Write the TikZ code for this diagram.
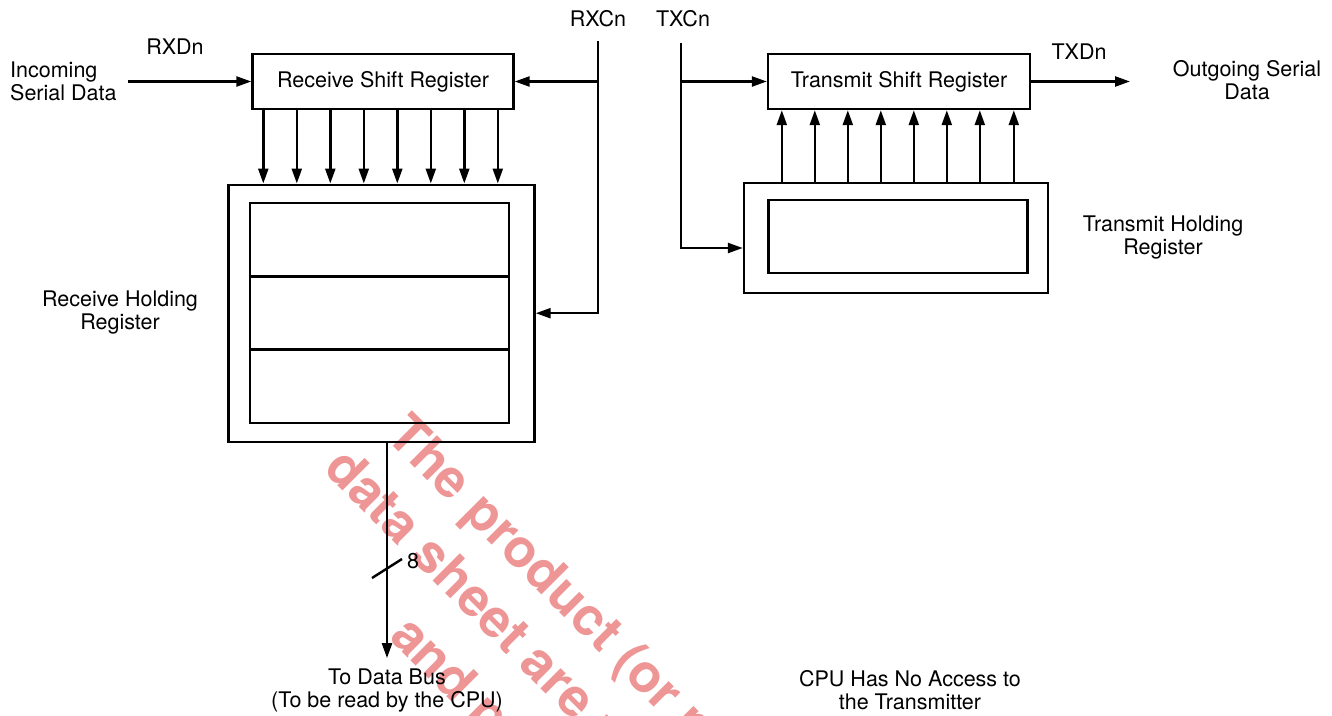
\documentclass[tikz,border=0pt]{standalone}
\usepackage{fontspec}
\setmainfont{TeX Gyre Heros}
\usepackage{tikz}
\usetikzlibrary{arrows.meta,positioning}

\definecolor{wmred}{RGB}{238,150,150}

\begin{document}
\begin{tikzpicture}[
    x=1pt, y=-1pt,
    font=\fontsize{21.5pt}{23pt}\selectfont,
    node distance=0pt,
    shiftreg/.style={rectangle, draw=black, line width=2.4pt, align=center, inner sep=0pt, minimum width=261pt, minimum height=55pt},
    holdreg/.style={rectangle, draw=black, line width=2.4pt, inner sep=0pt},
    cell/.style={rectangle, draw=black, line width=2.4pt, inner sep=0pt, outer sep=0pt, minimum width=259pt, minimum height=73.3pt},
    lbl/.style={inner sep=0pt, align=center},
    wmark/.style={inner sep=0pt, anchor=base west, rotate=-45, text=wmred, font=\bfseries\fontsize{53pt}{63pt}\selectfont},
    arrow/.style={-{Triangle[length=15pt,width=10pt]}, line width=2.4pt},
    wire/.style={line width=2.4pt}
]
\path[use as bounding box, clip] (0,0) rectangle (1332,715);

% watermark
\node[wmark] (wm1) at (384,437) {The product (or pr};
\node[wmark] (wm2) at (322,470) {data sheet are n};
\node[wmark] (wm3) at (388,638) {and p};

% receiver
\node[shiftreg] (rxshift) at (383,81.5) {Receive Shift Register};
\node[holdreg, minimum width=306pt, minimum height=257pt] (rxhold) at (381.5,313.2) {};
\node[cell] (rxcell2) at (379.7,313) {};
\node[cell, above=of rxcell2] (rxcell1) {};
\node[cell, below=of rxcell2] (rxcell3) {};
\node[lbl] (rxholdlbl) at (120,313) {Receive Holding\\Register};

\node[lbl, anchor=west, align=left] (incoming) at (10,81) {Incoming\\Serial Data};
\node[lbl] (rxd) at (175,47) {RXDn};
\coordinate (rxin) at (128,81.5);
\draw[arrow] (rxin) -- (rxshift.west);

\node[lbl] (rxcn) at (598,19) {RXCn};
\coordinate (rxtop) at (598,41);
\draw[arrow] (rxtop) |- (rxhold.east);
\draw[arrow] (rxtop |- rxshift.east) -- (rxshift.east);

\draw[arrow] ([xshift=12pt]rxshift.south west) -- ([xshift=36pt]rxhold.north west);
\draw[arrow] ([xshift=45.5pt]rxshift.south west) -- ([xshift=69.5pt]rxhold.north west);
\draw[arrow] ([xshift=79pt]rxshift.south west) -- ([xshift=103pt]rxhold.north west);
\draw[arrow] ([xshift=112.5pt]rxshift.south west) -- ([xshift=136.5pt]rxhold.north west);
\draw[arrow] ([xshift=146pt]rxshift.south west) -- ([xshift=170pt]rxhold.north west);
\draw[arrow] ([xshift=179.5pt]rxshift.south west) -- ([xshift=203.5pt]rxhold.north west);
\draw[arrow] ([xshift=213pt]rxshift.south west) -- ([xshift=237pt]rxhold.north west);
\draw[arrow] ([xshift=246.5pt]rxshift.south west) -- ([xshift=270.5pt]rxhold.north west);

% data bus
\node[lbl] (databus) at (387,690) {To Data Bus\\(To be read by the CPU)};
\draw[arrow] ([xshift=5.5pt]rxhold.south) -- ([yshift=10pt]databus.north);
\coordinate (bus) at (387,568.5);
\draw[wire] ([xshift=-15pt,yshift=-9.5pt]bus) -- ([xshift=15pt,yshift=9.5pt]bus);
\node[lbl] (buswidth) at (413,561) {8};

% transmitter
\node[shiftreg, minimum width=262pt] (txshift) at (899,81.5) {Transmit Shift Register};
\node[holdreg, minimum width=304pt, minimum height=110pt] (txhold) at (896,238) {};
\node[cell] (txcell) at (898,236.5) {};
\node[lbl] (txholdlbl) at (1163,237.5) {Transmit Holding\\Register};

\node[lbl] (txcn) at (683,19) {TXCn};
\coordinate (txtop) at (681,43);
\draw[arrow] (txtop) |- ([yshift=-10pt]txhold.west);
\draw[arrow] (txtop |- txshift.west) -- (txshift.west);

\draw[arrow] ([xshift=39pt]txhold.north west) -- ([xshift=15pt]txshift.south west);
\draw[arrow] ([xshift=72pt]txhold.north west) -- ([xshift=48pt]txshift.south west);
\draw[arrow] ([xshift=105pt]txhold.north west) -- ([xshift=81pt]txshift.south west);
\draw[arrow] ([xshift=138pt]txhold.north west) -- ([xshift=114pt]txshift.south west);
\draw[arrow] ([xshift=171pt]txhold.north west) -- ([xshift=147pt]txshift.south west);
\draw[arrow] ([xshift=204pt]txhold.north west) -- ([xshift=180pt]txshift.south west);
\draw[arrow] ([xshift=237pt]txhold.north west) -- ([xshift=213pt]txshift.south west);
\draw[arrow] ([xshift=271pt]txhold.north west) -- ([xshift=247pt]txshift.south west);

\node[lbl] (txd) at (1079,52) {TXDn};
\coordinate (txout) at (1130,81.5);
\draw[arrow] (txshift.east) -- (txout);
\node[lbl] (outgoing) at (1247,80) {Outgoing Serial\\Data};

\node[lbl] (noaccess) at (910,690.5) {CPU Has No Access to\\the Transmitter};
\end{tikzpicture}
\end{document}
